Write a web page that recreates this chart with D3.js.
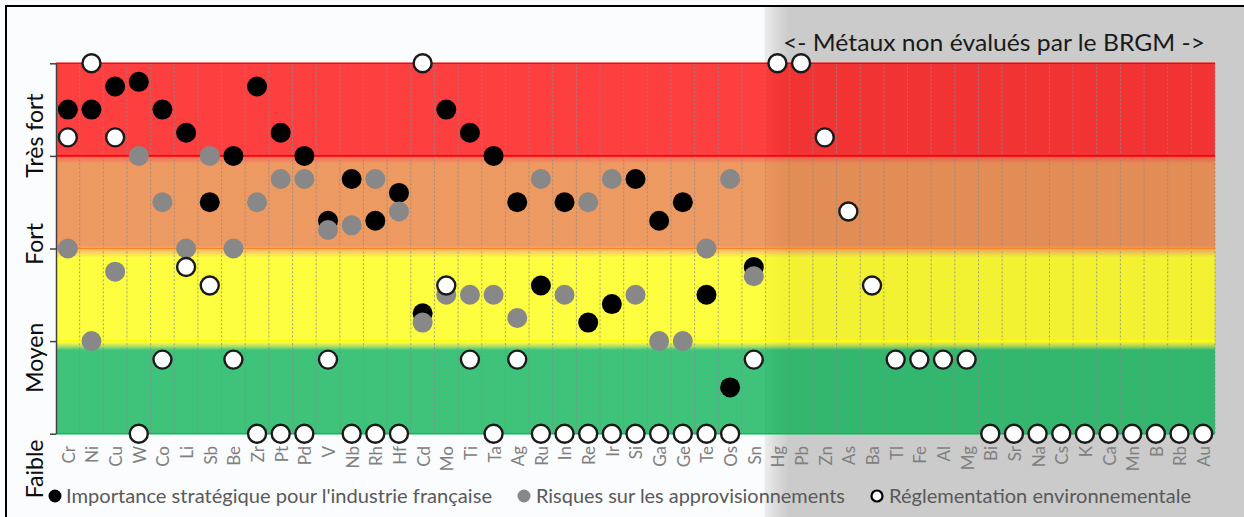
<!DOCTYPE html>
<html>
<head>
<meta charset="utf-8">
<script src="https://cdn.jsdelivr.net/npm/d3@7"></script>
<style>
  html, body { margin: 0; padding: 0; background: #fbfcfe; }
  svg { display: block; font-family: Lato, "Open Sans", sans-serif; }
</style>
</head>
<body>
<script>
// ---------------- DATA ----------------
const categories = ["Cr","Ni","Cu","W","Co","Li","Sb","Be","Zr","Pt","Pd","V","Nb","Rh","Hf","Cd","Mo","Ti","Ta","Ag","Ru","In","Re","Ir","Si","Ga","Ge","Te","Os","Sn",
  "Hg","Pb","Zn","As","Ba","Tl","Fe","Al","Mg","Bi","Sr","Na","Cs","K","Ca","Mn","B","Rb","Au"];

// Importance stratégique pour l'industrie française (black)
const importance = [3.5,3.5,3.75,3.8,3.5,3.25,2.5,3.0,3.75,3.25,3.0,2.3,2.75,2.3,2.6,1.3,3.5,3.25,3.0,2.5,1.6,2.5,1.2,1.4,2.75,2.3,2.5,1.5,0.5,1.8,
  null,null,null,null,null,null,null,null,null,null,null,null,null,null,null,null,null,null,null];

// Risques sur les approvisionnements (grey)
const risques = [2.0,1.0,1.75,3.0,2.5,2.0,3.0,2.0,2.5,2.75,2.75,2.2,2.25,2.75,2.4,1.2,1.5,1.5,1.5,1.25,2.75,1.5,2.5,2.75,1.5,1.0,1.0,2.0,2.75,1.7,
  null,null,null,null,null,null,null,null,null,null,null,null,null,null,null,null,null,null,null];

// Réglementation environnementale (white)
const reglementation = [3.2,4.0,3.2,0,0.8,1.8,1.6,0.8,0,0,0,0.8,0,0,0,4.0,1.6,0.8,0,0.8,0,0,0,0,0,0,0,0,0,0.8,
  4.0,4.0,3.2,2.4,1.6,0.8,0.8,0.8,0.8,0,0,0,0,0,0,0,0,0,0];

const levelLabels = ["Faible","Moyen","Fort","Très fort"];
const levelTicks = [0,1,2,3,4];
const levelLabelPos = [-0.38, 0.82, 2.05, 3.22];   // where each rotated label sits on the level axis
const legendLabels = ["Importance stratégique pour l'industrie française","Risques sur les approvisionnements","Réglementation environnementale"];
const annotation = "<- Métaux non évalués par le BRGM ->";
const firstUnevaluated = "Hg";

// ---------------- CHART ----------------
const W = 1244, H = 517;
const svg = d3.select("body").append("svg").attr("width", W).attr("height", H);
const defs = svg.append("defs");

const x = d3.scaleBand().domain(categories).range([56, 1215]).padding(0);
const y = d3.scaleLinear().domain([0, 4]).range([433.7, 63.3]);
const bw = x.bandwidth();

// background
svg.append("rect").attr("width", W).attr("height", H).attr("fill", "#fbfcfe");

// grey region (unevaluated metals)
const gx0 = x(firstUnevaluated) - 1;
const gg = defs.append("linearGradient").attr("id", "greyGrad")
  .attr("gradientUnits", "userSpaceOnUse").attr("x1", gx0).attr("x2", gx0 + 24).attr("y1", 0).attr("y2", 0);
gg.append("stop").attr("offset", 0).attr("stop-color", "#ededed");
gg.append("stop").attr("offset", 0.45).attr("stop-color", "#dcdcdc");
gg.append("stop").attr("offset", 1).attr("stop-color", "#cbcbcb");
svg.append("rect").attr("x", gx0).attr("y", 6).attr("width", W - gx0 + 5).attr("height", H)
  .attr("fill", "url(#greyGrad)");

// colored bands (vertical gradient)
const red = "#ff0000", orange = "#e9792e", yellow = "#ffff00", green = "#00b050";
const bg = defs.append("linearGradient").attr("id", "bandGrad")
  .attr("gradientUnits", "userSpaceOnUse").attr("x1", 0).attr("x2", 0).attr("y1", y(4)).attr("y2", y(0));
const span = y(0) - y(4);
const stops = [
  [y(4), red], [y(3) - 1, red], [y(3) + 1, "#f5402a"], [y(3) + 8, orange],
  [y(2) - 4, orange], [y(2) - 1, "#f4832a"], [y(2) + 3, "#f6b830"], [y(2) + 9, yellow],
  [y(1) + 1, yellow], [y(1) + 3, "#d2ea1a"], [y(1) + 6, "#7ccc3a"], [y(1) + 9, green], [y(0), green]
];
stops.forEach(([py, c]) => bg.append("stop").attr("offset", (py - y(4)) / span).attr("stop-color", c));
svg.append("rect").attr("x", x.range()[0]).attr("y", y(4)).attr("width", x.range()[1] - x.range()[0])
  .attr("height", span).attr("fill", "url(#bandGrad)").attr("opacity", 0.75);

// dotted vertical grid lines at band boundaries
const bounds = d3.range(1, categories.length + 1).map(i => x.range()[0] + i * bw);
svg.append("g").selectAll("line").data(bounds).join("line")
  .attr("x1", d => d).attr("x2", d => d).attr("y1", y(4)).attr("y2", y(0))
  .attr("stroke", "#8a8a8a").attr("stroke-width", 1).attr("stroke-dasharray", "2,2").attr("opacity", 0.8);

// coloured horizontal lines at level ticks
const lineColors = { 0: "#00c050", 1: "#ffff00", 2: "#f5862a", 3: "#ff0000", 4: "#ff0000" };
svg.append("g").selectAll("line").data(levelTicks).join("line")
  .attr("x1", x.range()[0]).attr("x2", x.range()[1]).attr("y1", d => y(d)).attr("y2", d => y(d))
  .attr("stroke", d => lineColors[d]).attr("stroke-width", d => d === 2 ? 1 : 1.6);

// left axis
const axis = svg.append("g").attr("transform", `translate(${x.range()[0]},0)`)
  .call(d3.axisLeft(y).tickValues(levelTicks).tickFormat("").tickSize(6).tickSizeOuter(0));
axis.select(".domain").attr("stroke", "#404040").attr("stroke-width", 1.5);
axis.selectAll(".tick line").attr("stroke", "#404040").attr("stroke-width", 1.5);

// level labels (rotated)
svg.append("g").selectAll("text").data(levelLabels).join("text")
  .attr("transform", (d, i) => `translate(43,${y(levelLabelPos[i])}) rotate(-90)`)
  .attr("text-anchor", "middle").attr("font-size", 23).attr("fill", "#0d0d0d")
  .text(d => d);

// category labels
svg.append("g").selectAll("text").data(categories).join("text")
  .attr("transform", d => `translate(${x(d) + bw / 2 + 1},446) rotate(-90)`)
  .attr("text-anchor", "end").attr("dy", "0.35em").attr("font-size", 17).attr("fill", "#808080")
  .text(d => d);

// dots
const rows = categories.map((c, i) => ({ c, imp: importance[i], ris: risques[i], reg: reglementation[i] }));
svg.append("g").selectAll("circle").data(rows.filter(d => d.imp != null)).join("circle")
  .attr("cx", d => x(d.c) + bw / 2).attr("cy", d => y(d.imp)).attr("r", 10).attr("fill", "#000");
svg.append("g").selectAll("circle").data(rows.filter(d => d.ris != null)).join("circle")
  .attr("cx", d => x(d.c) + bw / 2).attr("cy", d => y(d.ris)).attr("r", 10).attr("fill", "#888888");
svg.append("g").selectAll("circle").data(rows.filter(d => d.reg != null)).join("circle")
  .attr("cx", d => x(d.c) + bw / 2).attr("cy", d => y(d.reg)).attr("r", 9).attr("fill", "#fff")
  .attr("stroke", "#1a1a1a").attr("stroke-width", 2.4);

// annotation
svg.append("text").attr("x", 783).attr("y", 51).attr("font-size", 23).attr("fill", "#1a1a1a")
  .attr("textLength", 422).attr("lengthAdjust", "spacingAndGlyphs").text(annotation);

// legend
const legend = [
  { mx: 55, tx: 66, tw: 426, fill: "#000", stroke: "none", r: 6.5 },
  { mx: 524, tx: 536, tw: 309, fill: "#888888", stroke: "none", r: 6.5 },
  { mx: 877, tx: 889, tw: 302, fill: "#fff", stroke: "#000", r: 5.5 }
];
const lg = svg.append("g").selectAll("g").data(legend).join("g");
lg.append("circle").attr("cx", d => d.mx).attr("cy", 496).attr("r", d => d.r)
  .attr("fill", d => d.fill).attr("stroke", d => d.stroke).attr("stroke-width", 2.2);
lg.append("text").attr("x", d => d.tx).attr("y", 502.5).attr("font-size", 20).attr("fill", "#595959")
  .attr("textLength", d => d.tw).attr("lengthAdjust", "spacingAndGlyphs")
  .text((d, i) => legendLabels[i]);

// outer border
svg.append("rect").attr("x", 6).attr("y", 6).attr("width", 1250).attr("height", 530)
  .attr("fill", "none").attr("stroke", "#000").attr("stroke-width", 2);
</script>
</body>
</html>
